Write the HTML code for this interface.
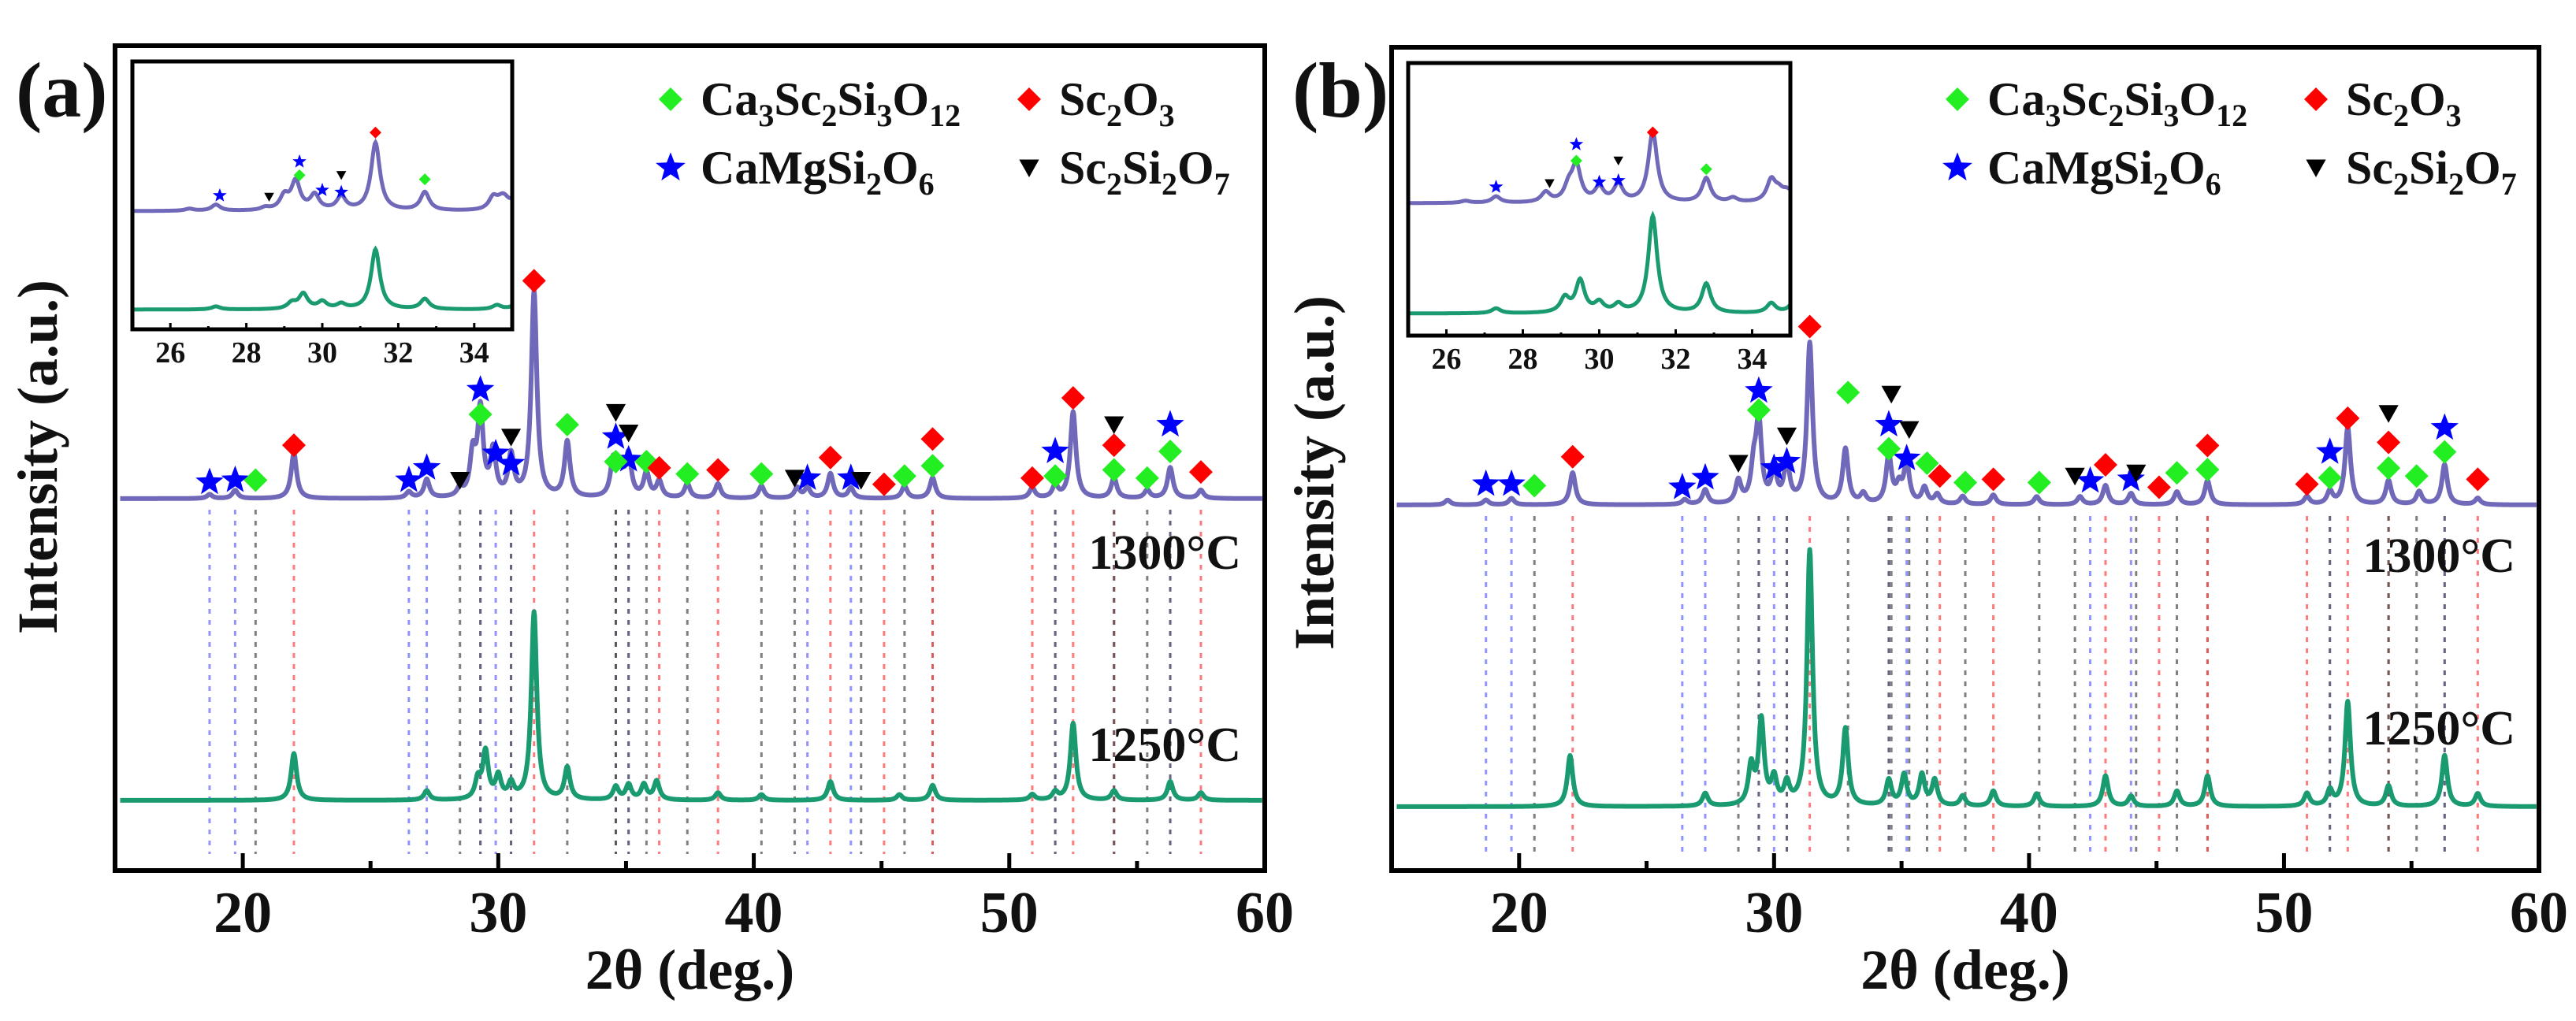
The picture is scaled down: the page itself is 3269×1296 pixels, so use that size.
<!DOCTYPE html>
<html><head><meta charset="utf-8">
<style>
html,body{margin:0;padding:0;background:#fff;}
svg{display:block;}
text{font-family:"Liberation Serif","DejaVu Serif",serif;font-weight:bold;fill:#111;}
</style></head>
<body>
<svg id="fig" width="3269" height="1296" viewBox="0 0 3269 1296" xmlns="http://www.w3.org/2000/svg"></svg>
<script>
// ---------- DATA ----------
const xTicks = [20, 30, 40, 50, 60];
const insetTicks = [26, 28, 30, 32, 34];
const tempLabels = ["1300°C", "1250°C"];

// panel (a) peaks: positions (deg) and relative intensities
const aHighPos = [18.7,19.7,22.0,26.5,27.2,28.5,29.0,29.3,29.8,30.5,31.4,32.7,34.5,34.8,35.1,35.8,36.3,37.4,38.6,40.3,41.7,42.1,43.0,43.8,45.9,47.0,50.9,51.8,52.5,54.1,55.4,56.3,57.5];
const aHighInt = [0.02,0.04,0.22,0.03,0.09,0.04,0.2,0.42,0.22,0.2,1.0,0.27,0.18,0.12,0.2,0.12,0.08,0.07,0.07,0.06,0.05,0.05,0.12,0.05,0.06,0.1,0.05,0.06,0.42,0.1,0.04,0.15,0.04];
const aLowPos = [22.0,27.2,29.2,29.5,30.0,30.5,31.4,32.7,34.6,35.1,35.7,36.2,38.6,40.3,43.0,45.7,47.0,50.9,51.8,52.5,54.1,56.3,57.5];
const aLowInt = [0.25,0.05,0.1,0.25,0.12,0.08,1.0,0.17,0.07,0.08,0.08,0.1,0.04,0.03,0.1,0.03,0.08,0.03,0.04,0.41,0.05,0.1,0.04];

// panel (b) peaks
const bHighPos = [17.2,18.7,19.7,22.1,26.5,27.3,28.6,29.2,29.4,30.0,30.5,31.4,32.8,33.5,34.5,34.9,35.2,35.9,36.4,37.4,38.6,40.3,42.0,43.0,44.0,45.8,47.0,50.9,51.8,52.5,54.1,55.3,56.3,57.6];
const bHighInt = [0.03,0.03,0.04,0.2,0.03,0.09,0.14,0.2,0.5,0.2,0.25,1.0,0.34,0.06,0.3,0.1,0.25,0.1,0.06,0.05,0.06,0.05,0.05,0.12,0.07,0.08,0.15,0.05,0.08,0.48,0.15,0.08,0.25,0.04];
const bLowPos = [22.0,27.3,29.1,29.5,30.0,30.5,31.4,32.8,34.5,35.1,35.8,36.3,37.4,38.6,40.3,43.0,44.0,45.8,47.0,50.9,51.8,52.5,54.1,56.3,57.6];
const bLowInt = [0.2,0.05,0.15,0.33,0.1,0.08,1.0,0.3,0.1,0.12,0.12,0.1,0.04,0.06,0.05,0.12,0.04,0.06,0.12,0.05,0.06,0.41,0.08,0.2,0.05];

// phase markers (position, height in intensity units of high-T curve)
const aStarPos = [18.7,19.7,26.5,27.2,29.3,29.9,30.5,34.6,35.1,42.1,43.8,51.8,56.3];
const aStarH   = [0.08,0.09,0.09,0.15,0.53,0.22,0.17,0.30,0.19,0.10,0.10,0.23,0.36];
const aGarnetPos = [20.5,29.3,32.7,34.6,35.8,37.4,40.3,45.9,47.0,51.8,54.1,55.4,56.3];
const aGarnetH   = [0.09,0.41,0.36,0.18,0.18,0.12,0.12,0.11,0.16,0.11,0.14,0.10,0.23];
const aScoPos = [22.0,31.4,36.3,38.6,43.0,45.1,47.0,50.9,52.5,54.1,57.5];
const aScoH   = [0.26,1.06,0.15,0.14,0.20,0.07,0.29,0.10,0.49,0.26,0.13];
const aTriPos = [28.5,30.5,34.6,35.1,41.6,44.2,54.1];
const aTriH   = [0.09,0.30,0.42,0.32,0.10,0.09,0.36];

const bStarPos = [18.7,19.7,26.4,27.3,29.4,30.0,30.5,34.5,35.2,42.4,44.0,51.8,56.3];
const bStarH   = [0.13,0.13,0.11,0.17,0.71,0.23,0.27,0.50,0.29,0.15,0.16,0.33,0.48];
const bGarnetPos = [20.6,29.4,32.9,34.5,36.0,37.5,40.4,45.8,47.0,51.8,54.1,55.2,56.3];
const bGarnetH   = [0.12,0.59,0.70,0.35,0.26,0.14,0.14,0.20,0.22,0.17,0.23,0.18,0.33];
const bScoPos = [22.1,31.4,36.5,38.6,43.0,45.1,47.0,50.9,52.5,54.1,57.6];
const bScoH   = [0.30,1.11,0.18,0.16,0.25,0.11,0.37,0.13,0.54,0.39,0.16];
const bTriPos = [28.6,30.5,34.6,35.3,41.8,44.2,54.1];
const bTriH   = [0.26,0.43,0.69,0.47,0.18,0.20,0.57];

// inset markers (heights in inset high-T intensity units)
const aInStarPos=[27.3,29.4,30.0,30.5], aInStarH=[0.23,0.73,0.31,0.28];
const aInGarPos=[29.4,32.7], aInGarH=[0.53,0.47];
const aInScoPos=[31.4], aInScoH=[1.16];
const aInTriPos=[28.6,30.5], aInTriH=[0.21,0.53];
const bInStarPos=[27.3,29.4,30.0,30.5], bInStarH=[0.23,0.83,0.30,0.32];
const bInGarPos=[29.4,32.8], bInGarH=[0.60,0.48];
const bInScoPos=[31.4], bInScoH=[1.0];
const bInTriPos=[28.7,30.5], bInTriH=[0.28,0.60];

// ---------- DRAW ----------
const NS="http://www.w3.org/2000/svg";
const svg=document.getElementById('fig');
function mk(tag,attrs,parent){const e=document.createElementNS(NS,tag);for(const k in attrs)e.setAttribute(k,attrs[k]);(parent||svg).appendChild(e);return e;}

function profile(x,pos,ints,w){let s=0;for(let i=0;i<pos.length;i++){const d=(x-pos[i])/w;s+=ints[i]/(1+d*d);}return s;}

function curvePath(pos,ints,xmin,xmax,X,Y,w){
  let d="";for(let x=xmin;x<=xmax+1e-9;x+=0.02){const px=X(x),py=Y(profile(x,pos,ints,w));d+=(d?"L":"M")+px.toFixed(1)+","+py.toFixed(1);}return d;}

function starPts(cx,cy,r){let p=[];for(let i=0;i<10;i++){const a=-Math.PI/2+i*Math.PI/5;const rr=i%2?r*0.42:r;p.push((cx+rr*Math.cos(a)).toFixed(1)+","+(cy+rr*Math.sin(a)).toFixed(1));}return p.join(" ");}

function marker(type,cx,cy,s,g){
  let e;
  if(type==="star"){e=mk('polygon',{points:starPts(cx,cy,s*0.62),fill:'#0000ff'},g);}
  else if(type==="garnet"){e=mk('polygon',{points:`${cx},${cy-s/2} ${cx+s/2},${cy} ${cx},${cy+s/2} ${cx-s/2},${cy}`,fill:'#22ee22'},g);}
  else if(type==="sco"){e=mk('polygon',{points:`${cx},${cy-s/2} ${cx+s/2},${cy} ${cx},${cy+s/2} ${cx-s/2},${cy}`,fill:'#ff0000'},g);}
  else {e=mk('polygon',{points:`${cx-s*0.42},${cy-s*0.35} ${cx+s*0.42},${cy-s*0.35} ${cx},${cy+s*0.4}`,fill:'#000'},g);}
  return e;
}

function legendText(g,x,y,parts){
  const t=mk('text',{x:x,y:y,'font-size':60},g);
  parts.forEach(p=>{const ts=mk('tspan',{},t);ts.textContent=p[0];
    if(p[1]){ts.setAttribute('font-size','40');ts.setAttribute('dy','14');}
    else if(p[2]){ts.setAttribute('dy','-14');}
  });
  return t;
}

function panel(cfg){
  const g=mk('g',{});
  
  
  const L=cfg.left,R=cfg.right,T=cfg.top,B=cfg.bottom;
  const X=v=>L+(v-15)/(60-15)*(R-L);
  const Yh=v=>cfg.hiBase-v*cfg.hiScale;
  const Yl=v=>cfg.loBase-v*cfg.loScale;

  // drop lines
  const dl=mk('g',{},g);
  
  
  const groups=[[cfg.star,'#7070ff'],[cfg.garnet,'#555'],[cfg.sco,'#ff5050'],[cfg.tri,'#555']];
  groups.forEach(([m,c])=>{m.pos.forEach(p=>{const l=mk('line',{x1:X(p),x2:X(p),y1:cfg.hiBase+14,y2:cfg.dropEnd,stroke:c,'stroke-width':3,'stroke-dasharray':'6 8',opacity:0.75},dl);});});

  // curves
  const ph=mk('path',{d:curvePath(cfg.hiPos,cfg.hiInt,15.2,59.9,X,Yh,0.13),fill:'none',stroke:'#7068b8','stroke-width':6,'stroke-linejoin':'round'},g);
  
  
  const pl=mk('path',{d:curvePath(cfg.loPos,cfg.loInt,15.2,59.9,X,Yl,0.13),fill:'none',stroke:'#1a9a70','stroke-width':6,'stroke-linejoin':'round'},g);
  
  

  // markers
  const mg=mk('g',{},g);
  
  
  [['star',cfg.star],['garnet',cfg.garnet],['sco',cfg.sco],['tri',cfg.tri]].forEach(([t,m])=>{
    m.pos.forEach((p,i)=>{const e=marker(t,X(p),Yh(m.h[i]),30,mg);});});

  // temperature labels
  const t1=mk('text',{x:R-30,y:cfg.lab1y,'font-size':62,'text-anchor':'end'},g);t1.textContent=tempLabels[0];
  
  const t2=mk('text',{x:R-30,y:cfg.lab2y,'font-size':62,'text-anchor':'end'},g);t2.textContent=tempLabels[1];
  

  // frame
  const fr=mk('rect',{x:L,y:T,width:R-L,height:B-T,fill:'none',stroke:'#000','stroke-width':6},g);
  
  for(let v=15;v<=60;v+=5){const major=v%10===0;const tk=mk('line',{x1:X(v),x2:X(v),y1:B,y2:B-(major?22:12),stroke:'#000','stroke-width':5},g);}
  xTicks.forEach(v=>{const tl=mk('text',{x:X(v),y:B+78,'font-size':74,'text-anchor':'middle'},g);tl.textContent=v;});
  const xt=mk('text',{x:(L+R)/2,y:B+150,'font-size':72,'text-anchor':'middle'},g);xt.textContent="2θ (deg.)";
  
  const yt=mk('text',{x:0,y:0,'font-size':72,'text-anchor':'middle',transform:`translate(${cfg.ytx},${cfg.yty}) rotate(-90)`},g);yt.textContent="Intensity (a.u.)";
  
  const pt=mk('text',{x:cfg.ptx,y:148,'font-size':100},g);pt.textContent=cfg.title;
  

  // legend
  const lg=mk('g',{},g);
  
  const lx=cfg.legX;
  let e;
  e=marker('garnet',lx,126,30,lg);
  e=legendText(lg,lx+38,146,[["Ca"],["3",1],["Sc",0,1],["2",1],["Si",0,1],["3",1],["O",0,1],["12",1]]);
  e=marker('sco',lx+455,126,30,lg);
  e=legendText(lg,lx+493,146,[["Sc"],["2",1],["O",0,1],["3",1]]);
  e=marker('star',lx,213,32,lg);
  e=legendText(lg,lx+38,233,[["CaMgSi"],["2",1],["O",0,1],["6",1]]);
  e=marker('tri',lx+455,213,30,lg);
  e=legendText(lg,lx+493,233,[["Sc"],["2",1],["Si",0,1],["2",1],["O",0,1],["7",1]]);

  // inset
  const ig=mk('g',{},g);
  
  const iL=cfg.in.l,iR=cfg.in.r,iT=cfg.in.t,iB=cfg.in.b;
  const IX=v=>iL+(v-25)/(35-25)*(iR-iL);
  const IYh=v=>cfg.in.hb-v*cfg.in.hs;
  const IYl=v=>cfg.in.lb-v*cfg.in.ls;
  const cp=mk('clipPath',{id:'clip'+cfg.id},ig);mk('rect',{x:iL,y:iT,width:iR-iL,height:iB-iT},cp);
  const cg=mk('g',{'clip-path':`url(#clip${cfg.id})`},ig);
  e=mk('path',{d:curvePath(cfg.hiPos.concat([34.7]),cfg.hiInt.concat([cfg.in.bump]),25,35,IX,IYh,0.14),fill:'none',stroke:'#7068b8','stroke-width':5},cg);
  
  e=mk('path',{d:curvePath(cfg.loPos,cfg.loInt,25,35,IX,IYl,0.14),fill:'none',stroke:'#1a9a70','stroke-width':5},cg);
  
  [['star',cfg.in.star],['garnet',cfg.in.gar],['sco',cfg.in.sco],['tri',cfg.in.tri]].forEach(([t,m])=>{
    m.pos.forEach((p,i)=>{const k=marker(t,IX(p),IYh(m.h[i]),15,ig);});});
  e=mk('rect',{x:iL,y:iT,width:iR-iL,height:iB-iT,fill:'none',stroke:'#000','stroke-width':5},ig);
  
  for(let v=25;v<=35;v+=1){const major=v%2===0;const k=mk('line',{x1:IX(v),x2:IX(v),y1:iB,y2:iB-(major?8:4),stroke:'#000','stroke-width':3},ig);}
  insetTicks.forEach(v=>{const k=mk('text',{x:IX(v),y:iB+42,'font-size':38,'text-anchor':'middle'},ig);k.textContent=v;});
}

panel({id:'a',title:'(a)',ptx:20,left:146,right:1605,top:58,bottom:1105,
  hiBase:633,hiScale:261,loBase:1016,loScale:238,dropEnd:1084,lab1y:722,lab2y:966,ytx:72,yty:580,legX:851,
  hiPos:aHighPos,hiInt:aHighInt,loPos:aLowPos,loInt:aLowInt,
  star:{pos:aStarPos,h:aStarH},garnet:{pos:aGarnetPos,h:aGarnetH},sco:{pos:aScoPos,h:aScoH},tri:{pos:aTriPos,h:aTriH},
  in:{l:168,r:650,t:78,b:418,hb:268,hs:86,lb:393,ls:76,bump:0.09,
    star:{pos:aInStarPos,h:aInStarH},gar:{pos:aInGarPos,h:aInGarH},sco:{pos:aInScoPos,h:aInScoH},tri:{pos:aInTriPos,h:aInTriH}}});

panel({id:'b',title:'(b)',ptx:1640,left:1766,right:3222,top:60,bottom:1105,
  hiBase:641,hiScale:204,loBase:1024,loScale:324,dropEnd:1084,lab1y:726,lab2y:945,ytx:1692,yty:600,legX:2484,
  hiPos:bHighPos,hiInt:bHighInt,loPos:bLowPos,loInt:bLowInt,
  star:{pos:bStarPos,h:bStarH},garnet:{pos:bGarnetPos,h:bGarnetH},sco:{pos:bScoPos,h:bScoH},tri:{pos:bTriPos,h:bTriH},
  in:{l:1787,r:2272,t:80,b:426,hb:258,hs:90,lb:398,ls:123,bump:0.12,
    star:{pos:bInStarPos,h:bInStarH},gar:{pos:bInGarPos,h:bInGarH},sco:{pos:bInScoPos,h:bInScoH},tri:{pos:bInTriPos,h:bInTriH}}});
</script>
</body></html>
